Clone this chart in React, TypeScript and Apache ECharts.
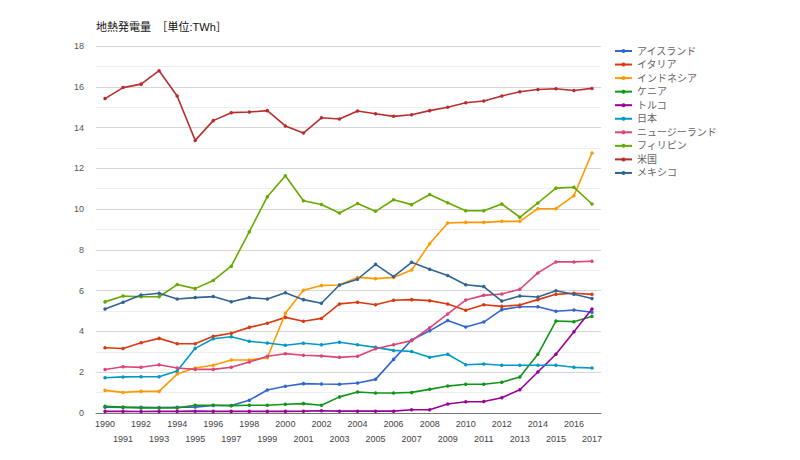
import React, { useEffect, useRef } from "react";
import * as echarts from "echarts";

const years = [
  "1990","1991","1992","1993","1994","1995","1996","1997","1998","1999",
  "2000","2001","2002","2003","2004","2005","2006","2007","2008","2009",
  "2010","2011","2012","2013","2014","2015","2016","2017",
];

const seriesNames = [
  "アイスランド","イタリア","インドネシア","ケニア","トルコ",
  "日本","ニュージーランド","フィリピン","米国","メキシコ",
];

const colors = [
  "#3366cc","#dc3912","#ff9900","#109618","#990099",
  "#0099c6","#dd4477","#66aa00","#b82e2e","#316395",
];

const iceland = [0.28,0.27,0.28,0.27,0.28,0.29,0.37,0.37,0.63,1.13,1.31,1.44,1.42,1.41,1.47,1.65,2.63,3.58,4.03,4.54,4.22,4.46,5.07,5.21,5.21,4.99,5.05,4.94];
const italy = [3.2,3.16,3.45,3.66,3.4,3.4,3.76,3.91,4.2,4.4,4.69,4.5,4.64,5.35,5.43,5.31,5.53,5.56,5.51,5.35,5.04,5.31,5.23,5.3,5.56,5.82,5.87,5.82];
const indonesia = [1.11,1.01,1.06,1.06,1.91,2.21,2.34,2.6,2.6,2.71,4.89,6.02,6.25,6.28,6.65,6.59,6.65,7.01,8.3,9.32,9.35,9.35,9.4,9.4,10.02,10.02,10.66,12.75];
const kenya = [0.33,0.29,0.25,0.25,0.25,0.38,0.38,0.36,0.38,0.38,0.43,0.46,0.38,0.79,1.03,0.98,0.98,1.01,1.16,1.32,1.41,1.41,1.51,1.77,2.88,4.51,4.48,4.74];
const turkey = [0.08,0.08,0.07,0.08,0.08,0.09,0.08,0.08,0.08,0.08,0.08,0.09,0.11,0.09,0.09,0.09,0.09,0.16,0.16,0.44,0.55,0.56,0.75,1.14,2.01,2.88,3.99,5.1];
const japan = [1.73,1.77,1.78,1.78,2.06,3.17,3.64,3.74,3.52,3.43,3.32,3.42,3.35,3.47,3.35,3.22,3.07,3.02,2.73,2.88,2.37,2.4,2.34,2.34,2.34,2.34,2.24,2.21];
const newZealand = [2.13,2.27,2.24,2.37,2.21,2.14,2.14,2.24,2.5,2.78,2.91,2.83,2.8,2.73,2.78,3.15,3.35,3.55,4.18,4.86,5.54,5.77,5.84,6.07,6.87,7.41,7.41,7.44];
const philippines = [5.45,5.74,5.7,5.7,6.3,6.1,6.5,7.2,8.89,10.61,11.64,10.41,10.23,9.81,10.27,9.89,10.46,10.22,10.72,10.31,9.92,9.92,10.25,9.6,10.3,11.03,11.07,10.25];
const usa = [15.42,15.96,16.13,16.79,15.55,13.37,14.34,14.73,14.76,14.83,14.08,13.73,14.48,14.42,14.81,14.68,14.55,14.63,14.83,15.0,15.22,15.3,15.55,15.76,15.87,15.9,15.82,15.92];
const mexico = [5.1,5.43,5.79,5.87,5.59,5.66,5.71,5.46,5.66,5.59,5.9,5.56,5.38,6.28,6.56,7.29,6.69,7.39,7.05,6.74,6.29,6.2,5.49,5.74,5.69,6.0,5.82,5.62];

const seriesData = [iceland, italy, indonesia, kenya, turkey, japan, newZealand, philippines, usa, mexico];

const yTicks = [0, 2, 4, 6, 8, 10, 12, 14, 16, 18];

export default function App() {
  const ref = useRef<HTMLDivElement>(null);
  useEffect(() => {
    if (!ref.current) return;
    const chart = echarts.init(ref.current, null, { renderer: "svg" });
    const font = "'Liberation Sans', Arial, 'Noto Sans CJK JP', sans-serif";
    chart.setOption({
      animation: false,
      color: colors,
      textStyle: { fontFamily: font },
      title: {
        text: "地熱発電量　［単位:TWh］",
        left: 91,
        top: 16,
        textStyle: { fontSize: 11, fontWeight: "normal", color: "#111", fontFamily: font },
      },
      legend: {
        orient: "vertical",
        left: 609,
        top: 41,
        itemWidth: 17,
        itemHeight: 5,
        itemGap: 3.55,
        data: seriesNames,
        textStyle: { fontSize: 10, color: "#666", fontFamily: font },
      },
      grid: { left: 96, right: 199, top: 46, bottom: 47 },
      xAxis: {
        type: "category",
        data: years,
        boundaryGap: true,
        axisLine: { lineStyle: { color: "#777", width: 1 } },
        axisTick: { show: false },
        axisLabel: {
          interval: 0,
          fontSize: 9,
          color: "#444",
          margin: 3,
          lineHeight: 15,
          formatter: (v: string, i: number) => (i % 2 === 1 ? "\n" + v : v),
        },
      },
      yAxis: {
        type: "value",
        min: 0,
        max: 18,
        interval: 1,
        axisLine: { show: false },
        axisTick: { show: false },
        axisLabel: {
          fontSize: 9,
          color: "#555",
          margin: 12,
          formatter: (v: number) => (yTicks.indexOf(v) >= 0 ? String(v) : ""),
        },
        splitLine: { lineStyle: { color: ["#d6d6d6", "#efefef"], width: 1 } },
      },
      series: seriesNames.map((name, i) => ({
        name,
        type: "line",
        data: seriesData[i],
        symbol: "circle",
        symbolSize: 3.5,
        lineStyle: { width: 1.6 },
        itemStyle: { color: colors[i] },
      })),
    });
    return () => chart.dispose();
  }, []);
  return (
    <div
      ref={ref}
      style={{ position: "absolute", left: 0, top: 0, width: 800, height: 460 }}
    />
  );
}
